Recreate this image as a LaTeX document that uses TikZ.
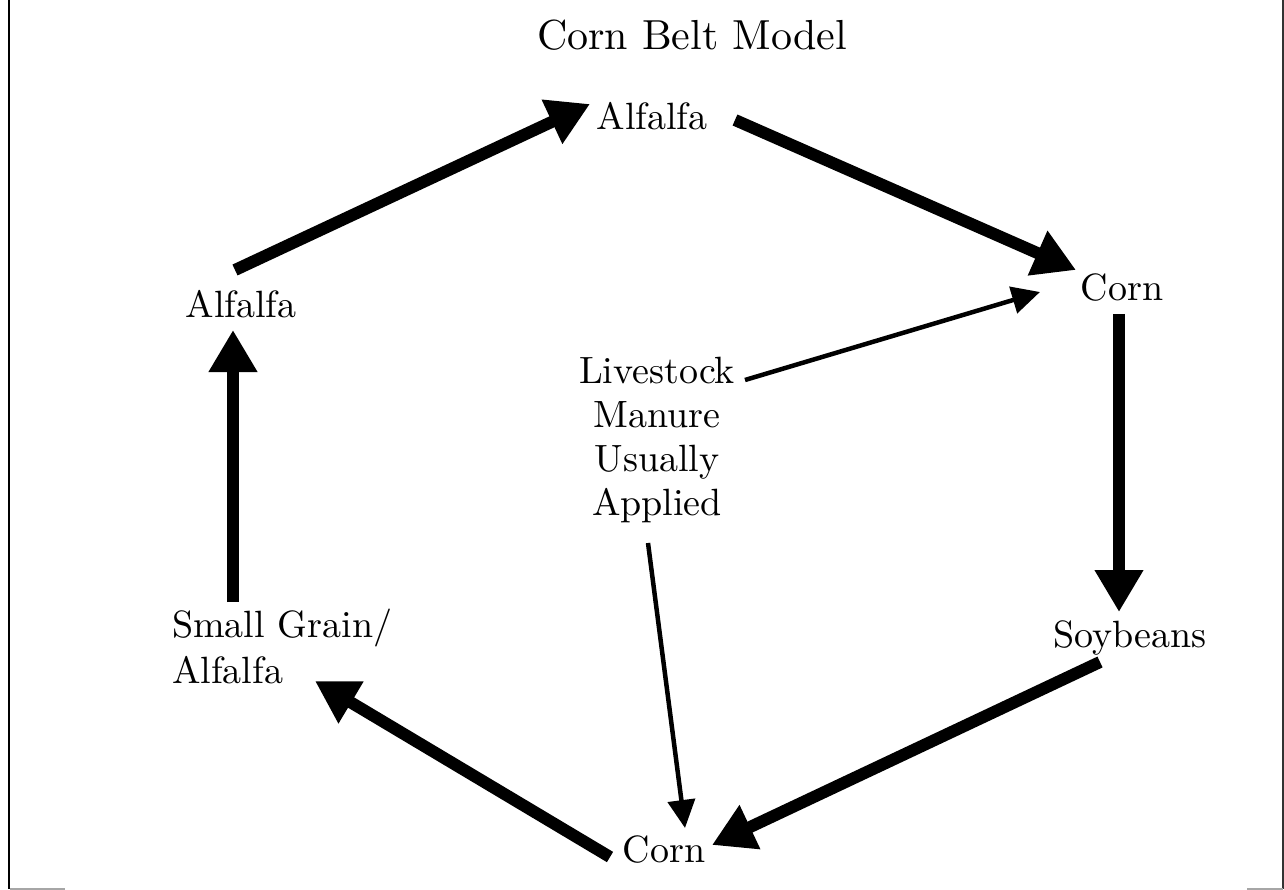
\documentclass[tikz,border=0pt]{standalone}
\usepackage{fontspec}
\setmainfont{lmroman10-regular}[Extension=.otf]
\usetikzlibrary{arrows.meta}
\begin{document}
\begin{tikzpicture}[x=1pt,y=-1pt,
  lbl/.style={inner sep=0pt, anchor=base, font=\fontsize{38}{44}\selectfont},
  bigarrow/.style={line width=12pt, -{Triangle[length=42pt,width=46pt]}},
  thinarrow/.style={line width=4.5pt, -{Triangle[length=28pt,width=27pt]}},
  frameline/.style={line width=2.5pt, black}]
\useasboundingbox (0,0) rectangle (1284,890);
% frame
\draw[frameline] (9,0) -- (9,889);
\draw[line width=1.5pt, black!80] (1283,0) -- (1283,889);
\draw[line width=1.5pt, black!35] (10,889) -- (65,889);
\draw[line width=1.5pt, black!35] (1247,889) -- (1283,889);
% title
\node[lbl, font=\fontsize{42}{50}\selectfont] (title) at (692,50) {Corn Belt Model};
% nodes
\node[lbl] (ta) at (652,130) {Alfalfa};
\node[lbl] (la) at (241,317) {Alfalfa};
\node[lbl] (rc) at (1122,301) {Corn};
\node[lbl] (sb) at (1130,647) {Soybeans};
\node[lbl] (bc) at (664,862) {Corn};
\node[lbl, anchor=base west, font=\fontsize{38}{46}\selectfont] (sg) at (172,637)
  {\begin{tabular}[t]{@{}l@{}}Small Grain/\\Alfalfa\end{tabular}};
\node[lbl, font=\fontsize{38}{44}\selectfont] (ls) at (657,383)
  {\begin{tabular}[t]{@{}c@{}}Livestock\\Manure\\Usually\\Applied\end{tabular}};
% cycle arrows
\draw[bigarrow] ([shift={(-6,-47)}]la.base) -- ([shift={(-62,-26)}]ta.base);
\draw[bigarrow] ([shift={(83,-10)}]ta.base) -- ([shift={(-46,-31)}]rc.base);
\draw[bigarrow] ([shift={(-3,13)}]rc.base) -- ([shift={(-11,-35)}]sb.base);
\draw[bigarrow] ([shift={(-30,15)}]sb.base) -- ([shift={(48,-17)}]bc.base);
\draw[bigarrow] ([shift={(-54,-5)}]bc.base) -- ([shift={(143,44)}]sg.base west);
\draw[bigarrow] ([shift={(61,-35)}]sg.base west) -- ([shift={(-8,13)}]la.base);
% manure arrows
\draw[thinarrow] ([shift={(88,-3)}]ls.base) -- ([shift={(-82,-9)}]rc.base);
\draw[thinarrow] ([shift={(-9,160)}]ls.base) -- ([shift={(21,-34)}]bc.base);
\end{tikzpicture}
\end{document}
